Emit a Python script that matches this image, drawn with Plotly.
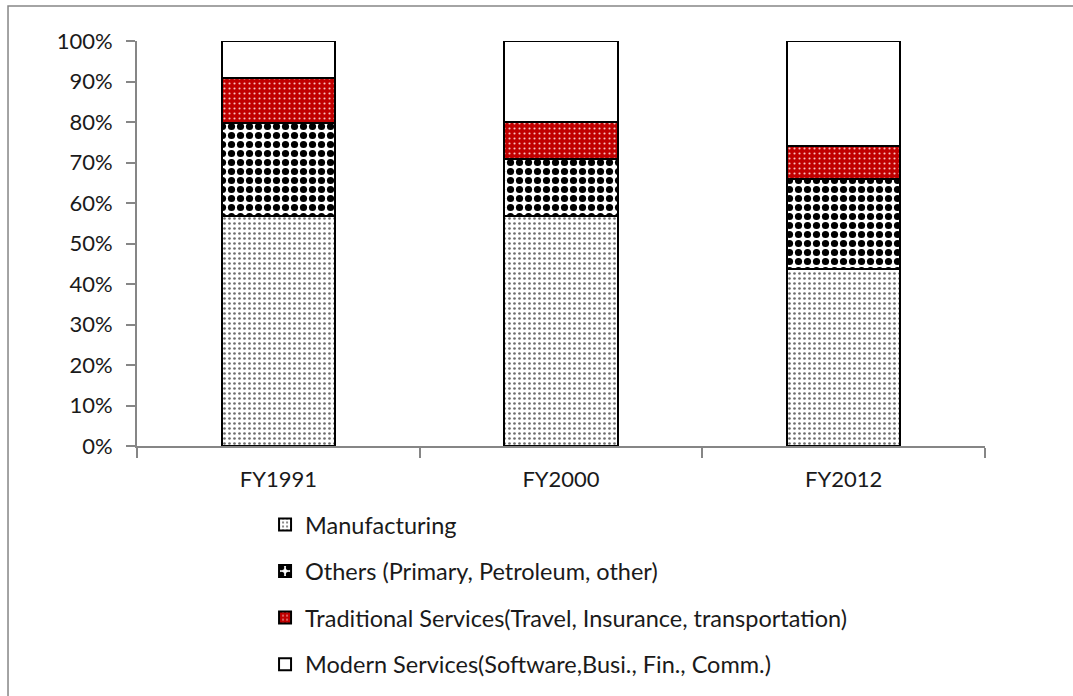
"""Export composition by sector, stacked 100% bars."""

import plotly.graph_objects as go


YEARS = ["FY1991", "FY2000", "FY2012"]

MANUFACTURING = [0.569, 0.569, 0.436]
OTHERS = [0.228, 0.139, 0.223]
TRADITIONAL = [0.112, 0.093, 0.082]
MODERN = [0.091, 0.199, 0.259]

SERIES_NAMES = [
    "Manufacturing",
    "Others (Primary, Petroleum, other)",
    "Traditional Services(Travel, Insurance, transportation)",
    "Modern Services(Software,Busi., Fin., Comm.)",
]

AXIS_GREY = "#868686"
FONT = dict(family="Lato, Arial, sans-serif", size=22, color="#1a1a1a")

# pattern per series, roughly mimicking the Excel fills
PATTERNS = [
    dict(shape=".", fgcolor="#6e6e6e", bgcolor="#ffffff", size=5, solidity=0.22),
    dict(shape=".", fgcolor="#000000", bgcolor="#ffffff", size=9, solidity=0.5),
    dict(shape=".", fgcolor="#f6c4c4", bgcolor="#c00000", size=5, solidity=0.14),
    None,
]

fig = go.Figure()
for name, values, pattern in zip(
    SERIES_NAMES, [MANUFACTURING, OTHERS, TRADITIONAL, MODERN], PATTERNS
):
    marker = dict(color="#ffffff", line=dict(color="#000000", width=2))
    if pattern:
        marker["color"] = pattern["bgcolor"]
        marker["pattern"] = dict(pattern, fillmode="replace", fgopacity=1)
    fig.add_trace(
        go.Bar(x=YEARS, y=values, name=name, legendgroup=name, marker=marker)
    )

fig.update_layout(
    width=1073,
    height=696,
    barmode="stack",
    bargap=0.6,
    margin=dict(l=137, r=88, t=41, b=250, autoexpand=False),
    paper_bgcolor="#ffffff",
    plot_bgcolor="#ffffff",
    font=FONT,
    showlegend=True,
    legend=dict(
        x=0.151,
        xanchor="left",
        y=-0.14,
        yanchor="top",
        traceorder="grouped",
        tracegroupgap=13,
        font=dict(FONT, size=23.5),
        bgcolor="rgba(0,0,0,0)",
    ),
    shapes=[
        # outer chart border (only left and top fall inside the picture)
        dict(
            type="rect",
            xref="paper",
            yref="paper",
            x0=-0.1521,
            x1=1.12,
            y0=-0.64,
            y1=1.0864,
            line=dict(color=AXIS_GREY, width=1.5),
            layer="below",
        )
    ],
)

fig.update_xaxes(
    type="category",
    range=[-0.5, 2.5],
    showline=True,
    linecolor=AXIS_GREY,
    linewidth=2,
    ticks="outside",
    tickson="boundaries",
    ticklen=10,
    tickwidth=2,
    tickcolor=AXIS_GREY,
    showgrid=False,
    ticklabelstandoff=13,
)
fig.update_yaxes(
    range=[0, 1],
    dtick=0.1,
    tickformat=".0%",
    showline=True,
    linecolor=AXIS_GREY,
    linewidth=2,
    ticks="outside",
    ticklen=9,
    tickwidth=2,
    tickcolor=AXIS_GREY,
    showgrid=False,
    zeroline=False,
    ticklabelstandoff=9,
)

fig.write_html(
    "out.html",
    config=dict(displayModeBar=False),
    post_script="document.body.style.margin='0';",
)
